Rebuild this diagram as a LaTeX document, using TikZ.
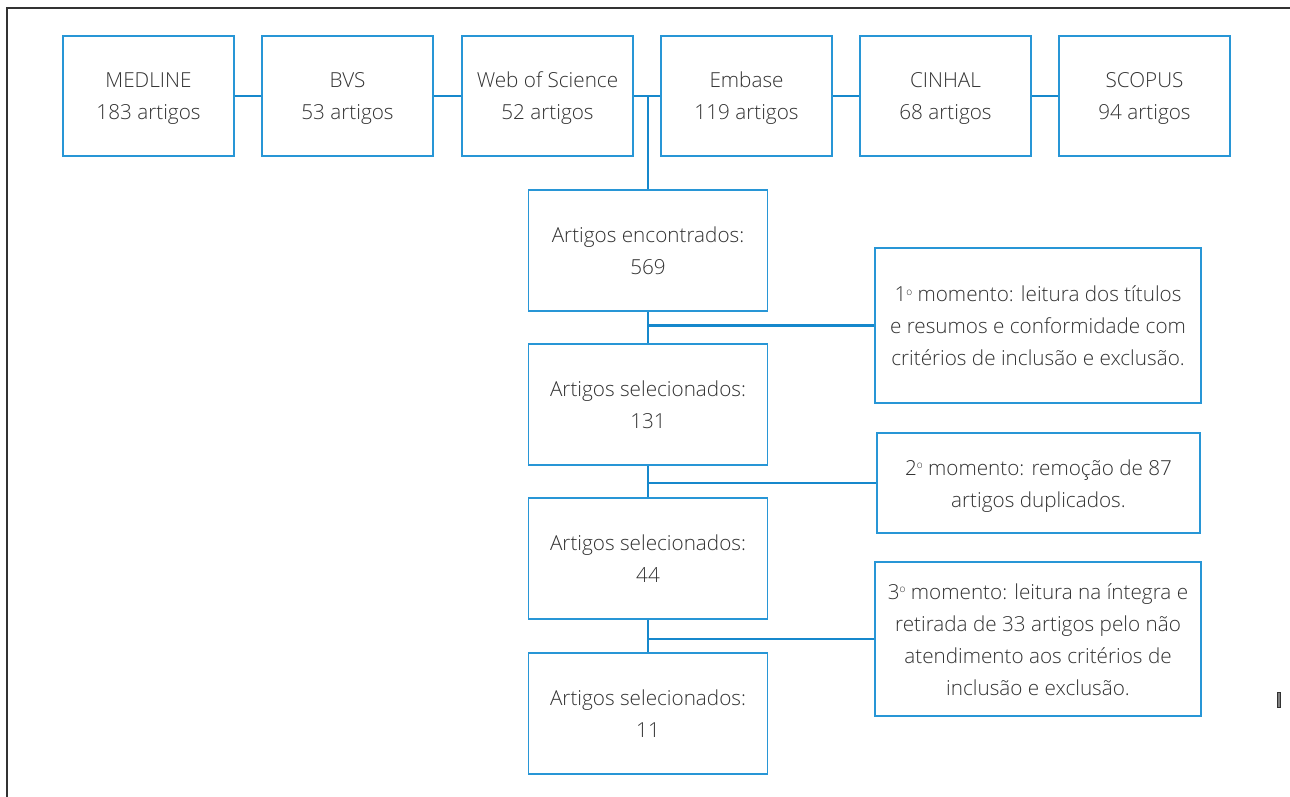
\documentclass[tikz,border=0pt]{standalone}
\usepackage{fontspec}
\IfFontExistsTF{Open Sans Light}{\setmainfont{Open Sans Light}}{\setmainfont{Open Sans}}
\definecolor{lineblue}{RGB}{22,136,204}
\definecolor{boxblue}{RGB}{40,150,214}
\definecolor{txtgray}{RGB}{50,50,50}
\definecolor{framegray}{RGB}{50,50,50}
\newcommand{\ordo}{\raisebox{6.5pt}{\fontsize{10}{10}\selectfont o}}
\begin{document}
\begin{tikzpicture}[x=1pt,y=-1pt,
  box/.style={draw=boxblue, line width=1.5pt, inner sep=0pt, align=center,
    text=txtgray, font=\fontsize{20.7}{32}\selectfont, text depth=6pt, text height=54pt},
  three/.style={text height=86pt},
  four/.style={text height=118pt},
  topbox/.style={box, minimum width=171pt, minimum height=120pt},
  midbox/.style={box, minimum width=239pt, minimum height=121pt},
  conn/.style={draw=lineblue, line width=2.6pt}]
\useasboundingbox (0,0) rectangle (1290,797);
\fill[white] (0,0) rectangle (1290,797);
% page frame
\draw[framegray, line width=1.6pt] (7,797) -- (7,8) -- (1290,8);
\draw[framegray, fill=gray, line width=0.6pt] (1277,692) rectangle (1280,707);
% top row
\node[topbox] (med) at (148.5,96) {MEDLINE\\183 artigos};
\node[topbox] (bvs) at (347.5,96) {BVS\\53 artigos};
\node[topbox] (wos) at (547.5,96) {Web of Science\\52 artigos};
\node[topbox] (emb) at (746.5,96) {Embase\\119 artigos};
\node[topbox] (cin) at (945.5,96) {CINHAL\\68 artigos};
\node[topbox] (sco) at (1144.5,96) {SCOPUS\\94 artigos};
% central column
\node[midbox] (enc) at (648,250.5) {Artigos encontrados:\\569};
\node[midbox] (s131) at (648,404.5) {Artigos selecionados:\\131};
\node[midbox] (s44) at (648,558.5) {Artigos selecionados:\\44};
\node[midbox] (s11) at (648,713.5) {Artigos selecionados:\\11};
% side boxes
\node[box, three, minimum width=326pt, minimum height=155pt] (m1) at (1038,325.5)
  {1\ordo{} momento: leitura dos títulos\\e resumos e conformidade com\\critérios de inclusão e exclusão.};
\node[box, minimum width=323pt, minimum height=100pt] (m2) at (1038.5,483)
  {2\ordo{} momento: remoção de 87\\artigos duplicados.};
\node[box, four, minimum width=326pt, minimum height=154pt] (m3) at (1038,639)
  {3\ordo{} momento: leitura na íntegra e\\retirada de 33 artigos pelo não\\atendimento aos critérios de\\inclusão e exclusão.};
% connectors
\draw[conn] (med.east) -- (bvs.west);
\draw[conn] (bvs.east) -- (wos.west);
\draw[conn] (wos.east) -- (emb.west);
\draw[conn] (emb.east) -- (cin.west);
\draw[conn] (cin.east) -- (sco.west);
\coordinate (j) at (wos.east -| enc.north);
\draw[conn] (j) -- (enc.north);
\draw[conn] (enc.south) -- (s131.north);
\draw[conn] (s131.south) -- (s44.north);
\draw[conn] (s44.south) -- (s11.north);
\draw[conn] (m1.west) -- (m1.west -| enc.south);
\draw[conn] (m2.west) -- (m2.west -| enc.south);
\draw[conn] (m3.west) -- (m3.west -| enc.south);
\end{tikzpicture}
\end{document}
